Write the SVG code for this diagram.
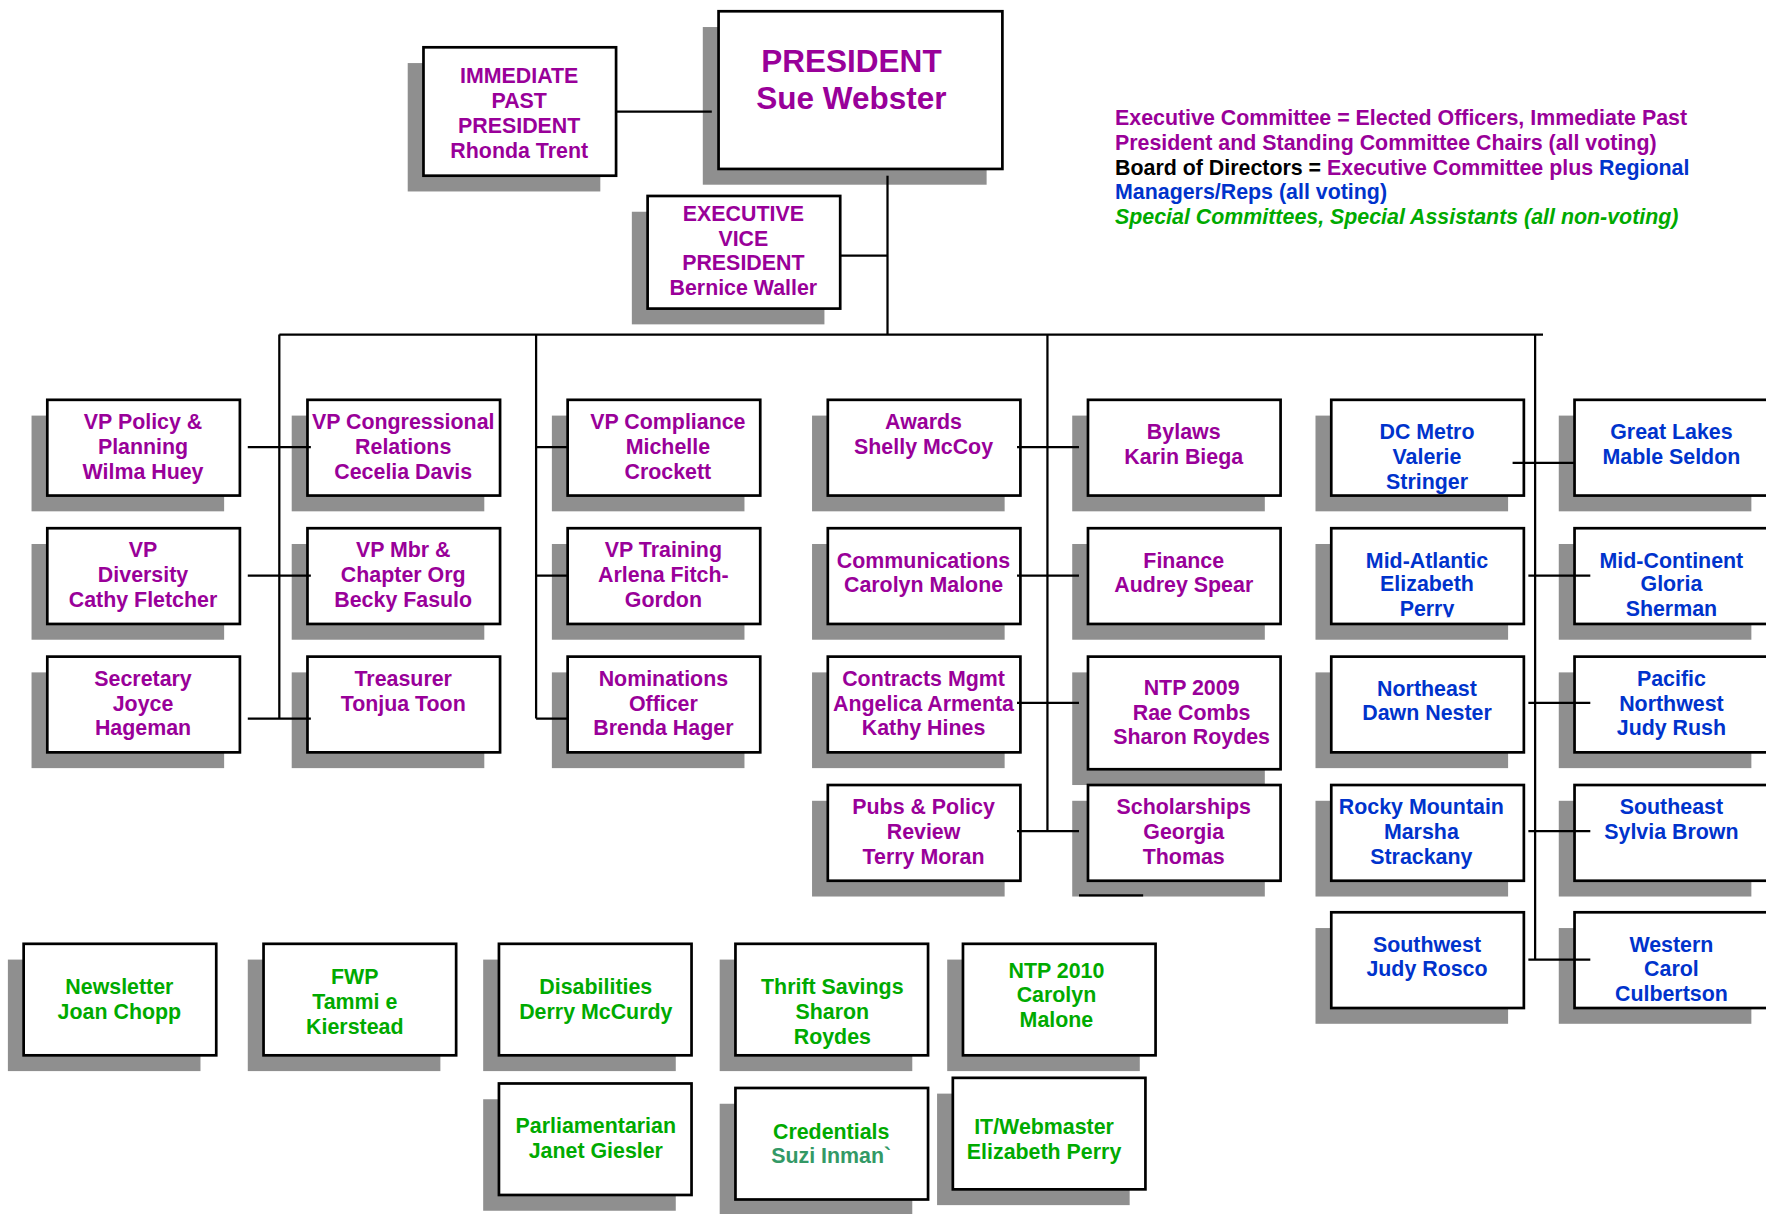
<svg xmlns="http://www.w3.org/2000/svg" width="1766" height="1214" viewBox="0 0 1766 1214">
<style>
.sh{fill:#8f8f8f}
.bx{fill:#fff;stroke:#000;stroke-width:2.4}
.t{font-family:"Liberation Sans",Arial,sans-serif;font-weight:bold;font-size:19px;text-anchor:middle}
.big{font-size:28px}
.lg{font-family:"Liberation Sans",Arial,sans-serif;font-weight:bold;font-size:19px}
.p{fill:#990099}
.b{fill:#0033cc}
.g{fill:#00aa00}
.k{fill:#000}
.tl{fill:#339966}
.c{stroke:#000;stroke-width:2;fill:none}
</style>
<defs>
<clipPath id="clipMA"><rect x="1182" y="469" width="171" height="79"/></clipPath>
</defs>
<rect width="1766" height="1214" fill="#fff"/>
<g transform="scale(1.12628)">
<g id="president"><rect class="sh" x="624" y="24" width="252" height="140"/><rect class="bx" x="638" y="10" width="252" height="140"/><text class="t big p"><tspan x="756" y="64">PRESIDENT</tspan><tspan x="756" y="97">Sue Webster</tspan></text></g>
<g id="ipp"><rect class="sh" x="362" y="56" width="171" height="114"/><rect class="bx" x="376" y="42" width="171" height="114"/><text class="t p"><tspan x="461" y="74">IMMEDIATE</tspan><tspan x="461" y="96">PAST</tspan><tspan x="461" y="118">PRESIDENT</tspan><tspan x="461" y="140">Rhonda Trent</tspan></text></g>
<g id="evp"><rect class="sh" x="561" y="188" width="171" height="100"/><rect class="bx" x="575" y="174" width="171" height="100"/><text class="t p"><tspan x="660" y="196">EXECUTIVE</tspan><tspan x="660" y="218">VICE</tspan><tspan x="660" y="240">PRESIDENT</tspan><tspan x="660" y="262">Bernice Waller</tspan></text></g>

<g id="legend" class="lg"><text x="990" y="111" class="p">Executive Committee = Elected Officers, Immediate Past</text><text x="990" y="133" class="p">President and Standing Committee Chairs (all voting)</text><text x="990" y="155"><tspan class="k">Board of Directors = </tspan><tspan class="p">Executive Committee plus </tspan><tspan class="b">Regional</tspan></text><text x="990" y="177" class="b">Managers/Reps (all voting)</text><text x="990" y="199" class="g" font-style="italic">Special Committees, Special Assistants (all non-voting)</text></g>

<g id="vp-policy"><rect class="sh" x="28" y="369" width="171" height="85"/><rect class="bx" x="42" y="355" width="171" height="85"/><text class="t p"><tspan x="127" y="381">VP Policy &amp;</tspan><tspan x="127" y="403">Planning</tspan><tspan x="127" y="425">Wilma Huey</tspan></text></g>
<g id="vp-congressional"><rect class="sh" x="259" y="369" width="171" height="85"/><rect class="bx" x="273" y="355" width="171" height="85"/><text class="t p"><tspan x="358" y="381">VP Congressional</tspan><tspan x="358" y="403">Relations</tspan><tspan x="358" y="425">Cecelia Davis</tspan></text></g>
<g id="vp-compliance"><rect class="sh" x="490" y="369" width="171" height="85"/><rect class="bx" x="504" y="355" width="171" height="85"/><text class="t p"><tspan x="593" y="381">VP Compliance</tspan><tspan x="593" y="403">Michelle</tspan><tspan x="593" y="425">Crockett</tspan></text></g>
<g id="awards"><rect class="sh" x="721" y="369" width="171" height="85"/><rect class="bx" x="735" y="355" width="171" height="85"/><text class="t p"><tspan x="820" y="381">Awards</tspan><tspan x="820" y="403">Shelly McCoy</tspan></text></g>
<g id="bylaws"><rect class="sh" x="952" y="369" width="171" height="85"/><rect class="bx" x="966" y="355" width="171" height="85"/><text class="t p"><tspan x="1051" y="390">Bylaws</tspan><tspan x="1051" y="412">Karin Biega</tspan></text></g>
<g id="dc-metro"><rect class="sh" x="1168" y="369" width="171" height="85"/><rect class="bx" x="1182" y="355" width="171" height="85"/><text class="t b"><tspan x="1267" y="390">DC Metro</tspan><tspan x="1267" y="412">Valerie</tspan><tspan x="1267" y="434">Stringer</tspan></text></g>
<g id="great-lakes"><rect class="sh" x="1384" y="369" width="171" height="85"/><rect class="bx" x="1398" y="355" width="180" height="85"/><text class="t b"><tspan x="1484" y="390">Great Lakes</tspan><tspan x="1484" y="412">Mable Seldon</tspan></text></g>

<g id="vp-diversity"><rect class="sh" x="28" y="483" width="171" height="85"/><rect class="bx" x="42" y="469" width="171" height="85"/><text class="t p"><tspan x="127" y="495">VP</tspan><tspan x="127" y="517">Diversity</tspan><tspan x="127" y="539">Cathy Fletcher</tspan></text></g>
<g id="vp-mbr"><rect class="sh" x="259" y="483" width="171" height="85"/><rect class="bx" x="273" y="469" width="171" height="85"/><text class="t p"><tspan x="358" y="495">VP Mbr &amp;</tspan><tspan x="358" y="517">Chapter Org</tspan><tspan x="358" y="539">Becky Fasulo</tspan></text></g>
<g id="vp-training"><rect class="sh" x="490" y="483" width="171" height="85"/><rect class="bx" x="504" y="469" width="171" height="85"/><text class="t p"><tspan x="589" y="495">VP Training</tspan><tspan x="589" y="517">Arlena Fitch-</tspan><tspan x="589" y="539">Gordon</tspan></text></g>
<g id="communications"><rect class="sh" x="721" y="483" width="171" height="85"/><rect class="bx" x="735" y="469" width="171" height="85"/><text class="t p"><tspan x="820" y="504">Communications</tspan><tspan x="820" y="526">Carolyn Malone</tspan></text></g>
<g id="finance"><rect class="sh" x="952" y="483" width="171" height="85"/><rect class="bx" x="966" y="469" width="171" height="85"/><text class="t p"><tspan x="1051" y="504">Finance</tspan><tspan x="1051" y="526">Audrey Spear</tspan></text></g>
<g id="mid-atlantic"><rect class="sh" x="1168" y="483" width="171" height="85"/><rect class="bx" x="1182" y="469" width="171" height="85"/><text class="t b" clip-path="url(#clipMA)"><tspan x="1267" y="504">Mid-Atlantic</tspan><tspan x="1267" y="525">Elizabeth</tspan><tspan x="1267" y="547">Perry</tspan></text></g>
<g id="mid-continent"><rect class="sh" x="1384" y="483" width="171" height="85"/><rect class="bx" x="1398" y="469" width="180" height="85"/><text class="t b"><tspan x="1484" y="504">Mid-Continent</tspan><tspan x="1484" y="525">Gloria</tspan><tspan x="1484" y="547">Sherman</tspan></text></g>

<g id="secretary"><rect class="sh" x="28" y="597" width="171" height="85"/><rect class="bx" x="42" y="583" width="171" height="85"/><text class="t p"><tspan x="127" y="609">Secretary</tspan><tspan x="127" y="631">Joyce</tspan><tspan x="127" y="653">Hageman</tspan></text></g>
<g id="treasurer"><rect class="sh" x="259" y="597" width="171" height="85"/><rect class="bx" x="273" y="583" width="171" height="85"/><text class="t p"><tspan x="358" y="609">Treasurer</tspan><tspan x="358" y="631">Tonjua Toon</tspan></text></g>
<g id="nominations"><rect class="sh" x="490" y="597" width="171" height="85"/><rect class="bx" x="504" y="583" width="171" height="85"/><text class="t p"><tspan x="589" y="609">Nominations</tspan><tspan x="589" y="631">Officer</tspan><tspan x="589" y="653">Brenda Hager</tspan></text></g>
<g id="contracts"><rect class="sh" x="721" y="597" width="171" height="85"/><rect class="bx" x="735" y="583" width="171" height="85"/><text class="t p"><tspan x="820" y="609">Contracts Mgmt</tspan><tspan x="820" y="631">Angelica Armenta</tspan><tspan x="820" y="653">Kathy Hines</tspan></text></g>
<g id="ntp2009"><rect class="sh" x="952" y="597" width="171" height="100"/><rect class="bx" x="966" y="583" width="171" height="100"/><text class="t p"><tspan x="1058" y="617">NTP 2009</tspan><tspan x="1058" y="639">Rae Combs</tspan><tspan x="1058" y="661">Sharon Roydes</tspan></text></g>
<g id="northeast"><rect class="sh" x="1168" y="597" width="171" height="85"/><rect class="bx" x="1182" y="583" width="171" height="85"/><text class="t b"><tspan x="1267" y="618">Northeast</tspan><tspan x="1267" y="639">Dawn Nester</tspan></text></g>
<g id="pacific-nw"><rect class="sh" x="1384" y="597" width="171" height="85"/><rect class="bx" x="1398" y="583" width="180" height="85"/><text class="t b"><tspan x="1484" y="609">Pacific</tspan><tspan x="1484" y="631">Northwest</tspan><tspan x="1484" y="653">Judy Rush</tspan></text></g>

<g id="pubs"><rect class="sh" x="721" y="711" width="171" height="85"/><rect class="bx" x="735" y="697" width="171" height="85"/><text class="t p"><tspan x="820" y="723">Pubs &amp; Policy</tspan><tspan x="820" y="745">Review</tspan><tspan x="820" y="767">Terry Moran</tspan></text></g>
<g id="scholarships"><rect class="sh" x="952" y="711" width="171" height="85"/><rect class="bx" x="966" y="697" width="171" height="85"/><text class="t p"><tspan x="1051" y="723">Scholarships</tspan><tspan x="1051" y="745">Georgia</tspan><tspan x="1051" y="767">Thomas</tspan></text></g>
<g id="rocky"><rect class="sh" x="1168" y="711" width="171" height="85"/><rect class="bx" x="1182" y="697" width="171" height="85"/><text class="t b"><tspan x="1262" y="723">Rocky Mountain</tspan><tspan x="1262" y="745">Marsha</tspan><tspan x="1262" y="767">Strackany</tspan></text></g>
<g id="southeast"><rect class="sh" x="1384" y="711" width="171" height="85"/><rect class="bx" x="1398" y="697" width="180" height="85"/><text class="t b"><tspan x="1484" y="723">Southeast</tspan><tspan x="1484" y="745">Sylvia Brown</tspan></text></g>

<g id="southwest"><rect class="sh" x="1168" y="824" width="171" height="85"/><rect class="bx" x="1182" y="810" width="171" height="85"/><text class="t b"><tspan x="1267" y="845">Southwest</tspan><tspan x="1267" y="867">Judy Rosco</tspan></text></g>
<g id="western"><rect class="sh" x="1384" y="824" width="171" height="85"/><rect class="bx" x="1398" y="810" width="180" height="85"/><text class="t b"><tspan x="1484" y="845">Western</tspan><tspan x="1484" y="867">Carol</tspan><tspan x="1484" y="889">Culbertson</tspan></text></g>

<g id="newsletter"><rect class="sh" x="7" y="852" width="171" height="99"/><rect class="bx" x="21" y="838" width="171" height="99"/><text class="t g"><tspan x="106" y="883">Newsletter</tspan><tspan x="106" y="905">Joan Chopp</tspan></text></g>
<g id="fwp"><rect class="sh" x="220" y="852" width="171" height="99"/><rect class="bx" x="234" y="838" width="171" height="99"/><text class="t g"><tspan x="315" y="874">FWP</tspan><tspan x="315" y="896">Tammi e</tspan><tspan x="315" y="918">Kierstead</tspan></text></g>
<g id="disabilities"><rect class="sh" x="429" y="852" width="171" height="99"/><rect class="bx" x="443" y="838" width="171" height="99"/><text class="t g"><tspan x="529" y="883">Disabilities</tspan><tspan x="529" y="905">Derry McCurdy</tspan></text></g>
<g id="thrift"><rect class="sh" x="639" y="852" width="171" height="99"/><rect class="bx" x="653" y="838" width="171" height="99"/><text class="t g"><tspan x="739" y="883">Thrift Savings</tspan><tspan x="739" y="905">Sharon</tspan><tspan x="739" y="927">Roydes</tspan></text></g>
<g id="ntp2010"><rect class="sh" x="841" y="852" width="171" height="99"/><rect class="bx" x="855" y="838" width="171" height="99"/><text class="t g"><tspan x="938" y="868">NTP 2010</tspan><tspan x="938" y="890">Carolyn</tspan><tspan x="938" y="912">Malone</tspan></text></g>
<g id="parliamentarian"><rect class="sh" x="429" y="976" width="171" height="99"/><rect class="bx" x="443" y="962" width="171" height="99"/><text class="t g"><tspan x="529" y="1006">Parliamentarian</tspan><tspan x="529" y="1028">Janet Giesler</tspan></text></g>
<g id="credentials"><rect class="sh" x="639" y="980" width="171" height="99"/><rect class="bx" x="653" y="966" width="171" height="99"/><text class="t"><tspan x="738" y="1011" class="g">Credentials</tspan><tspan x="738" y="1033" class="tl">Suzi Inman`</tspan></text></g>
<g id="webmaster"><rect class="sh" x="832" y="971" width="171" height="99"/><rect class="bx" x="846" y="957" width="171" height="99"/><text class="t g"><tspan x="927" y="1007">IT/Webmaster</tspan><tspan x="927" y="1029">Elizabeth Perry</tspan></text></g>

<g id="connectors" class="c">
<path d="M547 99H632"/>
<path d="M788 156V297"/>
<path d="M746 227H788"/>
<path d="M248 297H1370"/>
<path d="M248 297V638"/>
<path d="M220 397H276M220 511H276M220 638H276"/>
<path d="M476 297V638"/>
<path d="M476 397H504M476 511H504M476 638H504"/>
<path d="M930 297V738"/>
<path d="M903 397H958M903 511H958M903 624H958M903 738H958"/>
<path d="M1363 297V852"/>
<path d="M1343 411H1398M1357 511H1412M1357 624H1412M1357 738H1412M1357 852H1412"/>
<path d="M958 795H1015"/>
</g>
</g>
</svg>
